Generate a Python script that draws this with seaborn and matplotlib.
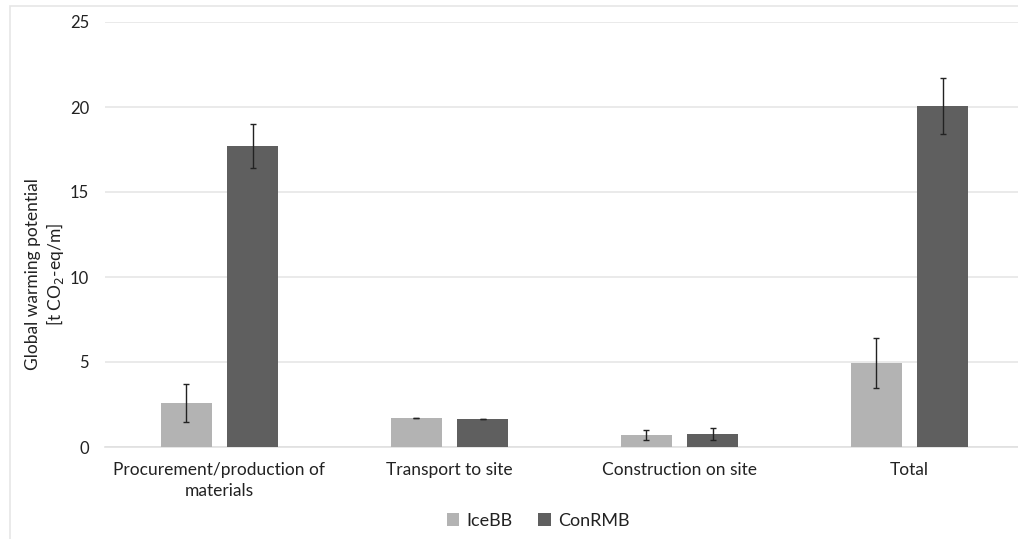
import numpy as np
import pandas as pd
import seaborn as sns
import matplotlib.pyplot as plt
from matplotlib.patches import Rectangle

categories = ["Procurement/production of\nmaterials", "Transport to site",
              "Construction on site", "Total"]
series = ["IceBB", "ConRMB"]
icebb_values = [2.6, 1.7, 0.7, 4.95]
conrmb_values = [17.7, 1.65, 0.75, 20.05]
icebb_err = [1.1, 0.02, 0.3, 1.45]
conrmb_err = [1.3, 0.02, 0.35, 1.65]
yticks = [0, 5, 10, 15, 20, 25]

colors = {"IceBB": "#b3b3b3", "ConRMB": "#5f5f5f"}

df = pd.DataFrame({
    "category": categories * 2,
    "system": ["IceBB"] * 4 + ["ConRMB"] * 4,
    "gwp": icebb_values + conrmb_values,
    "err": icebb_err + conrmb_err,
})

sns.set_theme(style="white")
plt.rcParams["font.family"] = ["Lato", "DejaVu Sans"]

W, H = 1018, 539
fig = plt.figure(figsize=(W / 100, H / 100), dpi=100)
ax = fig.add_axes([104.5 / W, 1 - 447 / H, 920 / W, 425 / H])

sns.barplot(data=df, x="category", y="gwp", hue="system", hue_order=series,
            order=categories, palette=colors, width=0.574, gap=0.227,
            errorbar=None, ax=ax, edgecolor="none", zorder=3)

# error bars at the centre of each bar
for cont, name in zip(ax.containers, series):
    sub = df[df["system"] == name].set_index("category").loc[categories]
    xs = [p.get_x() + p.get_width() / 2 for p in cont.patches]
    ax.errorbar(xs, sub["gwp"].values, yerr=sub["err"].values, fmt="none",
                ecolor="#222222", elinewidth=1.0, capsize=2, capthick=1.0,
                zorder=4)

ax.set_ylim(0, 25)
ax.set_yticks(yticks)
ax.set_xlim(-0.5, 3.5)
ax.yaxis.grid(True, color="#e6e6e6", linewidth=1.2, zorder=0)
ax.set_axisbelow(True)
for s in ["top", "right", "left"]:
    ax.spines[s].set_visible(False)
ax.spines["bottom"].set_color("#e0e0e0")
ax.spines["bottom"].set_linewidth(1.2)
ax.tick_params(axis="both", length=0, colors="#222222")
ax.tick_params(axis="y", pad=11, labelsize=12)
ax.tick_params(axis="x", pad=11, labelsize=12.5)
for lbl in ax.get_xticklabels():
    lbl.set_linespacing(1.35)
ax.set_xlabel("")
ax.set_ylabel("Global warming potential\n[t CO$_2$-eq/m]", fontsize=12.5,
              color="#222222", linespacing=1.2, va="center")
ax.yaxis.set_label_coords(-0.064, 0.407)

ax.legend(loc="center", bbox_to_anchor=(538 / W, 1 - 521 / H),
          bbox_transform=fig.transFigure, ncol=2,
          frameon=False, fontsize=13, handlelength=0.7, handleheight=0.7,
          handletextpad=0.4, columnspacing=1.4, labelcolor="#222222")

# outer chart-area border
fig.patches.append(Rectangle((10 / W, -0.1), 1.2, 1.1 - 6 / H,
                             transform=fig.transFigure, fill=False,
                             edgecolor="#e6e6e6", linewidth=1.2))

fig.savefig("out.png", dpi=100, facecolor="white")
